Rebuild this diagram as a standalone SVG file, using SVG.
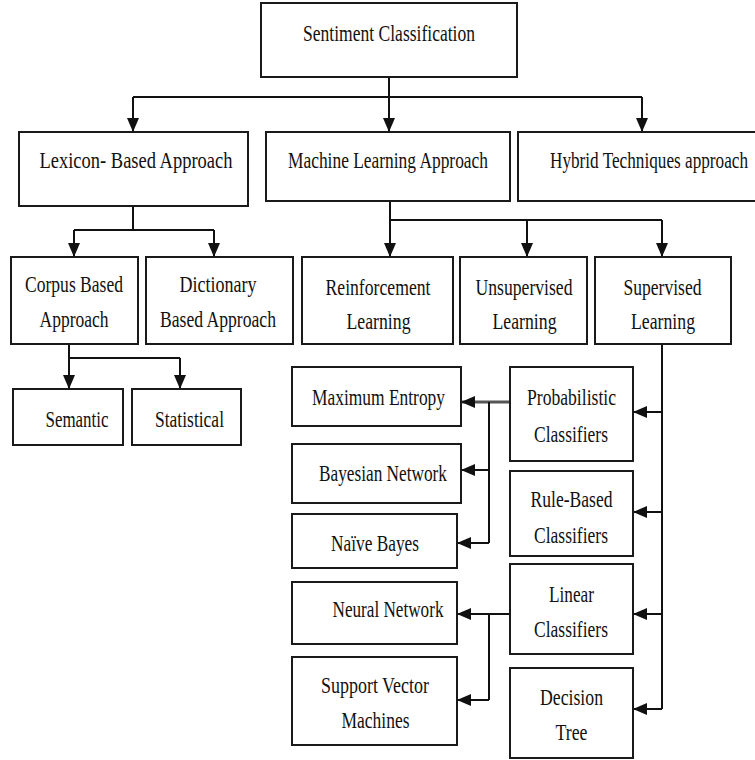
<svg xmlns="http://www.w3.org/2000/svg" width="755" height="760" viewBox="0 0 755 760">
  <style>
    .box { fill: #ffffff; stroke: #1a1a1a; stroke-width: 2; }
    .lbl { font-family: "Liberation Serif", "Times New Roman", serif; font-size: 23px; fill: #111111; text-anchor: middle; }
    .wire { fill: none; stroke: #111111; stroke-width: 2; }
  </style>
  <defs>
    <marker id="arrow" markerUnits="userSpaceOnUse" markerWidth="14" markerHeight="12" viewBox="0 0 14 12" refX="14" refY="6" orient="auto">
      <path d="M0,0 L14,6 L0,12 z" fill="#111111"/>
    </marker>
  </defs>
  <rect width="755" height="760" fill="#ffffff"/>

  <!-- connectors -->
  <g id="connectors">
    <path class="wire" d="M389,77 V97 M133,97 H642"/>
    <path class="wire" d="M133,97 V132" marker-end="url(#arrow)"/>
    <path class="wire" d="M389,97 V132" marker-end="url(#arrow)"/>
    <path class="wire" d="M642,97 V132" marker-end="url(#arrow)"/>

    <path class="wire" d="M133,206 V230 M74,230 H214"/>
    <path class="wire" d="M74,230 V257" marker-end="url(#arrow)"/>
    <path class="wire" d="M214,230 V257" marker-end="url(#arrow)"/>

    <path class="wire" d="M69,344 V358 H180"/>
    <path class="wire" d="M69,358 V389" marker-end="url(#arrow)"/>
    <path class="wire" d="M180,358 V389" marker-end="url(#arrow)"/>

    <path class="wire" d="M390,201 V220 H662"/>
    <path class="wire" d="M390,220 V257" marker-end="url(#arrow)"/>
    <path class="wire" d="M527,220 V257" marker-end="url(#arrow)"/>
    <path class="wire" d="M662,220 V257" marker-end="url(#arrow)"/>

    <path class="wire" d="M662,344 V709"/>
    <path class="wire" d="M662,412 H633" marker-end="url(#arrow)"/>
    <path class="wire" d="M662,512 H633" marker-end="url(#arrow)"/>
    <path class="wire" d="M662,614 H633" marker-end="url(#arrow)"/>
    <path class="wire" d="M662,709 H633" marker-end="url(#arrow)"/>

    <path class="wire" d="M510,402 H461" marker-end="url(#arrow)" style="stroke:#555555;stroke-width:3"/>
    <path class="wire" d="M489,402 V543"/>
    <path class="wire" d="M489,470 H461" marker-end="url(#arrow)"/>
    <path class="wire" d="M489,543 H457" marker-end="url(#arrow)"/>

    <path class="wire" d="M510,614 H457" marker-end="url(#arrow)"/>
    <path class="wire" d="M489,614 V700"/>
    <path class="wire" d="M489,700 H457" marker-end="url(#arrow)"/>
  </g>

  <!-- nodes -->
  <g id="sentiment">
    <rect class="box" x="261" y="3" width="256" height="74"/>
    <text class="lbl" x="389" y="40.5" textLength="172" lengthAdjust="spacingAndGlyphs">Sentiment Classification</text>
  </g>
  <g id="lexicon">
    <rect class="box" x="19" y="132" width="229" height="74"/>
    <text class="lbl" x="136" y="168" textLength="193" lengthAdjust="spacingAndGlyphs">Lexicon- Based Approach</text>
  </g>
  <g id="machine-learning">
    <rect class="box" x="266" y="132" width="244" height="69"/>
    <text class="lbl" x="388" y="168" textLength="200" lengthAdjust="spacingAndGlyphs">Machine Learning Approach</text>
  </g>
  <g id="hybrid">
    <rect class="box" x="518" y="132" width="250" height="69"/>
    <text class="lbl" x="649" y="168" textLength="198" lengthAdjust="spacingAndGlyphs">Hybrid Techniques approach</text>
  </g>
  <g id="corpus">
    <rect class="box" x="11" y="257" width="127" height="87"/>
    <text class="lbl" x="74" y="292" textLength="98" lengthAdjust="spacingAndGlyphs">Corpus Based</text>
    <text class="lbl" x="74" y="327" textLength="69" lengthAdjust="spacingAndGlyphs">Approach</text>
  </g>
  <g id="dictionary">
    <rect class="box" x="146" y="257" width="147" height="87"/>
    <text class="lbl" x="218" y="292" textLength="77" lengthAdjust="spacingAndGlyphs">Dictionary</text>
    <text class="lbl" x="218" y="327" textLength="116" lengthAdjust="spacingAndGlyphs">Based Approach</text>
  </g>
  <g id="semantic">
    <rect class="box" x="13" y="389" width="110" height="56"/>
    <text class="lbl" x="77" y="427" textLength="63" lengthAdjust="spacingAndGlyphs">Semantic</text>
  </g>
  <g id="statistical">
    <rect class="box" x="132" y="389" width="109" height="56"/>
    <text class="lbl" x="189.5" y="427" textLength="69" lengthAdjust="spacingAndGlyphs">Statistical</text>
  </g>
  <g id="reinforcement">
    <rect class="box" x="302" y="257" width="151" height="87"/>
    <text class="lbl" x="378" y="295" textLength="105" lengthAdjust="spacingAndGlyphs">Reinforcement</text>
    <text class="lbl" x="378.5" y="329" textLength="64" lengthAdjust="spacingAndGlyphs">Learning</text>
  </g>
  <g id="unsupervised">
    <rect class="box" x="460" y="257" width="127" height="87"/>
    <text class="lbl" x="524" y="295" textLength="97" lengthAdjust="spacingAndGlyphs">Unsupervised</text>
    <text class="lbl" x="524.5" y="329" textLength="64" lengthAdjust="spacingAndGlyphs">Learning</text>
  </g>
  <g id="supervised">
    <rect class="box" x="595" y="257" width="136" height="87"/>
    <text class="lbl" x="662.5" y="295" textLength="78" lengthAdjust="spacingAndGlyphs">Supervised</text>
    <text class="lbl" x="663" y="329" textLength="64" lengthAdjust="spacingAndGlyphs">Learning</text>
  </g>
  <g id="maximum-entropy">
    <rect class="box" x="292" y="367" width="169" height="59"/>
    <text class="lbl" x="378.5" y="405" textLength="133" lengthAdjust="spacingAndGlyphs">Maximum Entropy</text>
  </g>
  <g id="probabilistic">
    <rect class="box" x="510" y="367" width="123" height="94"/>
    <text class="lbl" x="571.5" y="405" textLength="89" lengthAdjust="spacingAndGlyphs">Probabilistic</text>
    <text class="lbl" x="571" y="442" textLength="74" lengthAdjust="spacingAndGlyphs">Classifiers</text>
  </g>
  <g id="bayesian-network">
    <rect class="box" x="292" y="444" width="169" height="59"/>
    <text class="lbl" x="383" y="481" textLength="128" lengthAdjust="spacingAndGlyphs">Bayesian Network</text>
  </g>
  <g id="rule-based">
    <rect class="box" x="510" y="471" width="123" height="85"/>
    <text class="lbl" x="571.5" y="507" textLength="82" lengthAdjust="spacingAndGlyphs">Rule-Based</text>
    <text class="lbl" x="571" y="543" textLength="74" lengthAdjust="spacingAndGlyphs">Classifiers</text>
  </g>
  <g id="naive-bayes">
    <rect class="box" x="292" y="514" width="165" height="54"/>
    <text class="lbl" x="375" y="551" textLength="88" lengthAdjust="spacingAndGlyphs">Naïve Bayes</text>
  </g>
  <g id="neural-network">
    <rect class="box" x="292" y="582" width="165" height="62"/>
    <text class="lbl" x="388" y="617" textLength="111" lengthAdjust="spacingAndGlyphs">Neural Network</text>
  </g>
  <g id="linear">
    <rect class="box" x="510" y="564" width="123" height="90"/>
    <text class="lbl" x="571.5" y="602" textLength="45" lengthAdjust="spacingAndGlyphs">Linear</text>
    <text class="lbl" x="571" y="637" textLength="74" lengthAdjust="spacingAndGlyphs">Classifiers</text>
  </g>
  <g id="svm">
    <rect class="box" x="292" y="657" width="165" height="88"/>
    <text class="lbl" x="375" y="693" textLength="108" lengthAdjust="spacingAndGlyphs">Support Vector</text>
    <text class="lbl" x="375.5" y="728" textLength="68" lengthAdjust="spacingAndGlyphs">Machines</text>
  </g>
  <g id="decision-tree">
    <rect class="box" x="510" y="668" width="123" height="90"/>
    <text class="lbl" x="571.5" y="705" textLength="63" lengthAdjust="spacingAndGlyphs">Decision</text>
    <text class="lbl" x="571.5" y="740" textLength="32" lengthAdjust="spacingAndGlyphs">Tree</text>
  </g>
</svg>
